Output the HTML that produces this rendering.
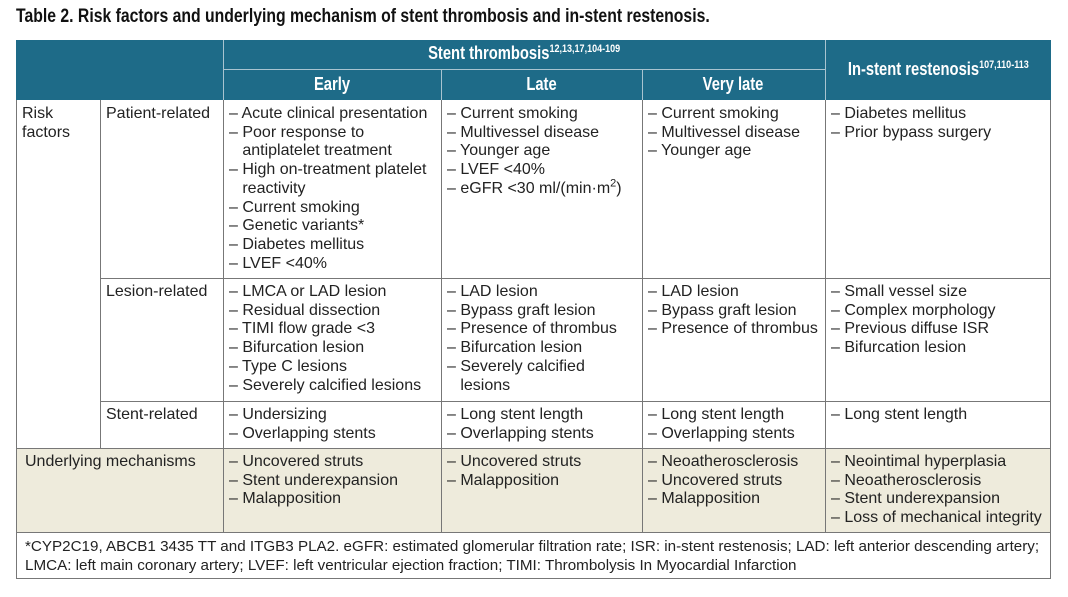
<!DOCTYPE html>
<html><head><meta charset="utf-8"><style>
body{margin:0;width:1068px;height:597px;background:#fff;position:relative;font-family:"Liberation Sans",sans-serif;color:#222;overflow:hidden}
.t{position:absolute;left:16px;top:6px;font-weight:bold;font-size:19px;color:#111;white-space:nowrap;transform:scaleX(0.83);transform-origin:0 0}
.c{position:absolute;box-sizing:border-box;font-size:16px;line-height:18.7px;padding:5px 6px;white-space:nowrap}
.h{background:#1e6b88;color:#fff;font-weight:bold;font-size:18px;text-align:center}
.h span{display:inline-block;transform:scaleX(0.82)}
.l{position:absolute;background:#777}
.lw{position:absolute;background:#a9c4d0}
.b{background:#eeebdc}
sup{font-size:11px;line-height:0}
</style></head><body>
<div class="t">Table 2. Risk factors and underlying mechanism of stent thrombosis and in-stent restenosis.</div>
<div class="c h" style="left:16px;top:40px;width:1035px;height:60px"></div>
<div class="c h" style="left:223px;top:40px;width:602px;height:30px;padding-top:4px"><span>Stent thrombosis<sup>12,13,17,104-109</sup></span></div>
<div class="c h" style="left:223px;top:70px;width:218px;height:30px;padding-top:5px"><span>Early</span></div>
<div class="c h" style="left:441px;top:70px;width:201px;height:30px;padding-top:5px"><span>Late</span></div>
<div class="c h" style="left:642px;top:70px;width:183px;height:30px;padding-top:5px"><span>Very late</span></div>
<div class="c h" style="left:825px;top:40px;width:226px;height:60px;padding:20px 0 0 0"><span>In-stent restenosis<sup>107,110-113</sup></span></div>
<div class="lw" style="left:223px;top:40px;width:1px;height:60px"></div>
<div class="lw" style="left:825px;top:40px;width:1px;height:60px"></div>
<div class="lw" style="left:223px;top:69px;width:602px;height:1px"></div>
<div class="lw" style="left:441px;top:70px;width:1px;height:30px"></div>
<div class="lw" style="left:642px;top:70px;width:1px;height:30px"></div>
<div class="c b" style="left:16px;top:448px;width:1035px;height:84px"></div>
<div class="c" style="left:16px;top:100px">Risk<br>factors</div>
<div class="c" style="left:100px;top:100px">Patient-related</div>
<div class="c" style="left:223px;top:100px">– Acute clinical presentation<br>– Poor response to<br>&nbsp;&nbsp;&nbsp;antiplatelet treatment<br>– High on-treatment platelet<br>&nbsp;&nbsp;&nbsp;reactivity<br>– Current smoking<br>– Genetic variants*<br>– Diabetes mellitus<br>– LVEF &lt;40%</div>
<div class="c" style="left:441px;top:100px">– Current smoking<br>– Multivessel disease<br>– Younger age<br>– LVEF &lt;40%<br>– eGFR &lt;30 ml/(min·m<sup>2</sup>)</div>
<div class="c" style="left:642px;top:100px">– Current smoking<br>– Multivessel disease<br>– Younger age</div>
<div class="c" style="left:825px;top:100px">– Diabetes mellitus<br>– Prior bypass surgery</div>
<div class="c" style="left:100px;top:278px">Lesion-related</div>
<div class="c" style="left:223px;top:278px">– LMCA or LAD lesion<br>– Residual dissection<br>– TIMI flow grade &lt;3<br>– Bifurcation lesion<br>– Type C lesions<br>– Severely calcified lesions</div>
<div class="c" style="left:441px;top:278px">– LAD lesion<br>– Bypass graft lesion<br>– Presence of thrombus<br>– Bifurcation lesion<br>– Severely calcified<br>&nbsp;&nbsp;&nbsp;lesions</div>
<div class="c" style="left:642px;top:278px">– LAD lesion<br>– Bypass graft lesion<br>– Presence of thrombus</div>
<div class="c" style="left:825px;top:278px">– Small vessel size<br>– Complex morphology<br>– Previous diffuse ISR<br>– Bifurcation lesion</div>
<div class="c" style="left:100px;top:401px">Stent-related</div>
<div class="c" style="left:223px;top:401px">– Undersizing<br>– Overlapping stents</div>
<div class="c" style="left:441px;top:401px">– Long stent length<br>– Overlapping stents</div>
<div class="c" style="left:642px;top:401px">– Long stent length<br>– Overlapping stents</div>
<div class="c" style="left:825px;top:401px">– Long stent length</div>
<div class="c" style="left:16px;top:448px;padding-left:9px">Underlying mechanisms</div>
<div class="c" style="left:223px;top:448px">– Uncovered struts<br>– Stent underexpansion<br>– Malapposition</div>
<div class="c" style="left:441px;top:448px">– Uncovered struts<br>– Malapposition</div>
<div class="c" style="left:642px;top:448px">– Neoatherosclerosis<br>– Uncovered struts<br>– Malapposition</div>
<div class="c" style="left:825px;top:448px">– Neointimal hyperplasia<br>– Neoatherosclerosis<br>– Stent underexpansion<br>– Loss of mechanical integrity</div>
<div class="c" style="left:16px;top:532px;padding-left:9px;font-size:15.2px;line-height:18.5px;padding-top:6px">*CYP2C19, ABCB1 3435 TT and ITGB3 PLA2. eGFR: estimated glomerular filtration rate; ISR: in-stent restenosis; LAD: left anterior descending artery;<br>LMCA: left main coronary artery; LVEF: left ventricular ejection fraction; TIMI: Thrombolysis In Myocardial Infarction</div>
<div class="l" style="left:16px;top:100px;width:1px;height:479px"></div>
<div class="l" style="left:1050px;top:100px;width:1px;height:479px"></div>
<div class="l" style="left:16px;top:578px;width:1035px;height:1px"></div>
<div class="l" style="left:16px;top:532px;width:1035px;height:1px"></div>
<div class="l" style="left:16px;top:448px;width:1035px;height:1px"></div>
<div class="l" style="left:100px;top:278px;width:951px;height:1px"></div>
<div class="l" style="left:100px;top:401px;width:951px;height:1px"></div>
<div class="l" style="left:100px;top:100px;width:1px;height:348px"></div>
<div class="l" style="left:223px;top:100px;width:1px;height:432px"></div>
<div class="l" style="left:441px;top:100px;width:1px;height:432px"></div>
<div class="l" style="left:642px;top:100px;width:1px;height:432px"></div>
<div class="l" style="left:825px;top:100px;width:1px;height:432px"></div>
</body></html>
